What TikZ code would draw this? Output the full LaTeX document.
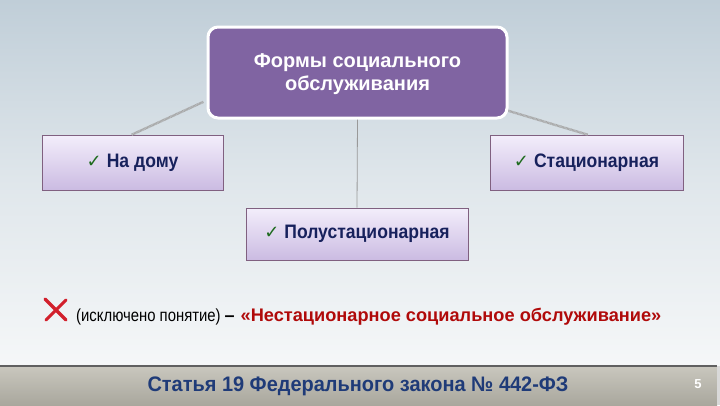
\documentclass[tikz,border=0pt]{standalone}
\usepackage{fontspec}
\setmainfont{Liberation Sans}
\newfontfamily\symfont{DejaVu Sans}
\newfontfamily\boxfont{Liberation Sans}[FakeStretch=0.9]
\newfontfamily\footfont{Liberation Sans}[FakeStretch=0.95]
\newfontfamily\narrowfont{Liberation Sans}[FakeStretch=0.85]
\usetikzlibrary{calc}
\definecolor{bgtop}{HTML}{C0CED8}
\definecolor{bgbot}{HTML}{F5F7F8}
\definecolor{purp}{HTML}{8064A2}
\definecolor{lavtop}{HTML}{F3EEFB}
\definecolor{lavbot}{HTML}{CBBBE2}
\definecolor{navy}{HTML}{17215C}
\definecolor{foottext}{HTML}{1F3B78}
\definecolor{darkred}{HTML}{B00A0A}
\definecolor{xred}{HTML}{D2202C}
\definecolor{checkgreen}{HTML}{1E6B1E}
\definecolor{foottop}{HTML}{C9C7BE}
\definecolor{footbot}{HTML}{A9A79D}
\tikzset{
  x=1pt, y=-1pt,
  mainbox/.style={rectangle, rounded corners=10pt, fill=purp, draw=white, line width=3pt,
    text=white, font=\bfseries\fontsize{20}{23}\selectfont, align=center,
    minimum width=299pt, minimum height=91pt, inner sep=0pt, text depth=0pt},
  formbox/.style={rectangle, top color=lavtop, bottom color=lavbot, draw=gray!75!violet, line width=0.6pt,
    text=navy, font=\boxfont\bfseries\fontsize{19.5}{21}\selectfont, minimum height=55pt, inner sep=0pt},
  hatch/.style={line width=2.4pt, color=gray!70, dash pattern=on 0.8pt off 0.5pt},
  thin/.style={line width=0.8pt, color=gray!80},
}
\newcommand{\chk}{{\color{checkgreen}\symfont\fontsize{18}{18}\selectfont ✓}\hspace{5pt}}
\begin{document}
\begin{tikzpicture}
\useasboundingbox (0,0) rectangle (720,405);
% background
\shade[top color=bgtop, bottom color=bgbot, middle color=bgtop!40!bgbot] (0,0) rectangle (720,366);
% footer
\shade[top color=foottop, bottom color=footbot] (0,366) rectangle (717,405);
\fill[white!70!gray] (717,366) rectangle (720,405);
\draw[line width=1.5pt, color=gray!75!black] (0,366) -- (717,366);

% nodes
\node[formbox, minimum width=181pt] (home) at (132.5,162.5) {\chk На дому};
\node[formbox, minimum width=193pt] (stat) at (586.5,162.5) {\chk Стационарная};
\node[formbox, minimum width=222pt, minimum height=52pt] (semi) at (357,234) {\chk Полустационарная};

% connectors (behind main box)
\coordinate (la) at ($(home.north west)+(90,0)$);
\coordinate (ra) at ($(stat.north west)+(98,0)$);
\draw[hatch] (la) -- ($(home.north west)+(162,-33)$);
\draw[hatch] (ra) -- ($(stat.north west)+(15,-25)$);
\node[mainbox] (top) at (357.5,72.5) {Формы социального\\обслуживания};
\draw[thin] (top.south) -- (semi.north);

% excluded concept line
\draw[xred, line width=3.5pt, line cap=round] (45,299) -- (66,320);
\draw[xred, line width=3pt, line cap=round] (66,300) -- (46,320);
\node[anchor=base west, inner sep=0pt] (excl) at (76,321)
  {{\narrowfont\fontsize{17.5}{19}\selectfont (исключено понятие)}\hspace{4pt}\textbf{\fontsize{18}{19}\selectfont –}\hspace{6pt}\textcolor{darkred}{\bfseries\fontsize{18.2}{19}\selectfont «Нестационарное социальное обслуживание»}};

% footer text
\node[text=foottext, font=\footfont\bfseries\fontsize{21}{23}\selectfont] (law) at (358,386) {Статья 19 Федерального закона № 442-ФЗ};
\node[text=white, font=\bfseries\fontsize{13}{14}\selectfont] (pg) at (698,384) {5};
\end{tikzpicture}
\end{document}
